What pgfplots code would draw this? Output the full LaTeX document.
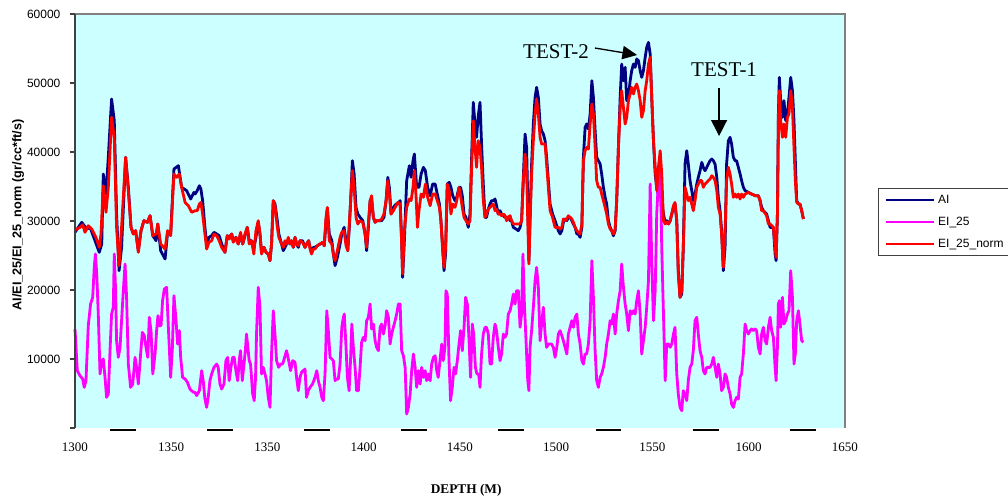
\documentclass[border=0pt]{standalone}
\usepackage{fontspec}
\setmainfont{Liberation Serif}
\newfontfamily\arial{Liberation Sans}
\usepackage{pgfplots}
\pgfplotsset{compat=1.18}
\usetikzlibrary{arrows.meta}

\definecolor{bgcyan}{RGB}{204,255,255}
\definecolor{ainavy}{RGB}{0,0,128}
\definecolor{eimag}{RGB}{255,0,255}
\definecolor{einorm}{RGB}{255,0,0}
\definecolor{framegray}{RGB}{128,128,128}
\definecolor{axisdark}{RGB}{64,64,64}

\begin{document}
\begin{tikzpicture}
\begin{axis}[
  name=ax,
  width=577.5pt, height=310.5pt, scale only axis,
  xmin=1250, xmax=1650, ymin=0, ymax=60000,
  clip=false,
  scaled y ticks=false, scaled x ticks=false,
  axis line style={draw=none},
  axis background/.style={fill=bgcyan},
  xtick={1250,1300,...,1650},
  xticklabels={1300,1350,1350,1400,1450,1500,1550,1600,1650},
  ytick={0,10000,...,60000},
  yticklabels={,10000,20000,30000,40000,50000,60000},
  tick pos=left, tick align=outside, major tick length=4pt,
  xtick style={draw=none},
  ytick style={draw=axisdark, line width=0.9pt},
  xticklabel style={font=\fontsize{9.75}{11}\selectfont, anchor=base, inner sep=0pt, yshift=-13.5pt},
  yticklabel style={font=\arial\fontsize{9}{10}\selectfont, anchor=east, inner sep=0pt, xshift=-6.75pt},
  xlabel={DEPTH (M)},
  xlabel style={at={(axis description cs:0.508,-0.1498)}, anchor=center, font=\bfseries\fontsize{10}{12}\selectfont},
  ylabel={AI/EI\_25/EI\_25\_norm (gr/cc*ft/s)},
  ylabel style={at={(axis description cs:-0.074,0.5145)}, anchor=center, font=\arial\bfseries\fontsize{9.5}{11}\selectfont},
  legend style={at={(1.0429,0.5797)}, anchor=north west, draw=axisdark, line width=0.6pt, fill=white,
    inner xsep=4.5pt, inner ysep=4.5pt, row sep=8pt, column sep=2.25pt,
    font=\arial\fontsize{9}{10}\selectfont,
    nodes={inner sep=0pt, text height=6.5pt, text depth=2pt, text width=80pt, align=left}},
  legend cell align=left,
  legend image code/.code={\draw[#1] (0pt,0pt) -- (36pt,0pt);},
  every axis plot/.append style={line width=2.1pt, line join=round},
]
% AI
\addplot[ainavy] coordinates {
(1250.0,28360) (1253.5,29810) (1256.1,28840) (1257.8,29080) (1260.4,27150) (1262.6,25460) (1263.9,26670) (1264.7,36810) (1266.1,33910) (1267.3,39230) (1269.0,47680) (1270.4,44540) (1271.6,31010) (1272.9,22800) (1274.2,26180) (1276.3,39230) (1277.7,34880) (1279.1,29080) (1280.3,28120) (1281.5,28600) (1282.9,25700) (1284.3,28600) (1285.8,30050) (1287.6,29810) (1289.0,30770) (1290.4,27870) (1292.1,27150) (1293.0,29570) (1294.5,25700) (1296.8,24490) (1298.1,28360) (1299.7,28120) (1301.4,37540) (1303.7,38020) (1305.4,34880) (1308.0,34400) (1310.1,33190) (1311.8,34150) (1312.4,33910)
(1313.5,34400) (1314.6,35120) (1315.4,34640) (1316.3,32950) (1317.5,29080) (1318.4,26670) (1319.6,27630) (1321.0,27870) (1322.2,28360) (1323.6,28120) (1324.9,27870) (1326.2,26670) (1327.9,25460) (1329.1,27870) (1330.1,27630) (1331.4,28120) (1332.2,27150) (1333.6,27630) (1334.8,26670) (1336.0,28120) (1337.1,26670) (1338.3,27870) (1339.5,29080) (1340.5,27150) (1341.7,27150) (1342.9,26180) (1344.0,27630) (1345.2,29810) (1346.1,28120) (1346.9,25460) (1348.2,26180) (1349.2,25460) (1350.4,25220) (1351.3,24250) (1352.1,26670) (1353.0,32950) (1353.9,32460) (1355.1,30050) (1355.9,28120) (1357.3,26670) (1358.2,25700) (1359.1,26180) (1359.9,26670) (1360.8,27150) (1361.7,26670) (1362.5,27150) (1363.4,26180) (1364.3,27630) (1365.1,26670) (1366.0,26180) (1366.9,27150) (1368.2,27150) (1369.5,26180) (1370.3,26670) (1371.4,27150) (1372.1,26180) (1372.9,25460) (1373.8,26180) (1374.7,26180)
(1375.9,26420) (1377.3,26670) (1378.7,26910) (1379.5,26420) (1380.4,30050) (1381.1,31740) (1382.1,28120) (1383.4,27150) (1384.2,25220) (1385.1,23530) (1386.3,24730) (1387.7,26670) (1388.6,28120) (1389.8,29080) (1390.8,27150) (1391.7,25700) (1392.5,29080) (1393.2,32950) (1394.1,38740) (1395.0,36810) (1396.0,31980) (1396.9,31010) (1398.1,30530) (1399.5,30050) (1400.7,28120) (1401.5,25700) (1402.4,29080) (1403.3,32950) (1404.1,32950) (1405.0,30530) (1405.9,29810) (1406.7,30050) (1408.1,30050) (1409.3,30050) (1410.5,30530) (1411.6,32950) (1412.5,36330) (1413.3,34880) (1414.2,31010) (1415.4,31980) (1416.8,32460) (1417.7,32460) (1418.9,32950) (1419.7,27150) (1420.2,21840) (1421.1,27150) (1422.3,35850) (1423.7,38020) (1424.6,36330) (1425.6,38740) (1426.3,39710) (1427.5,34880) (1428.7,34880) (1429.8,36810) (1431.0,37780) (1432.0,37290) (1433.2,34880) (1434.5,33670) (1435.8,35360) (1437.1,35360)
(1438.2,33910) (1439.3,32460) (1440.1,30050) (1441.0,26180) (1441.7,22800) (1442.5,25220) (1443.4,35360) (1444.4,35600) (1445.3,34880) (1446.2,33670) (1447.4,32950) (1448.3,33430) (1449.5,34880) (1450.3,34880) (1451.2,33670) (1452.1,31010) (1453.1,30530) (1454.3,29080) (1455.2,31010) (1456.1,39710) (1456.9,47200) (1457.8,44060) (1458.6,42130) (1459.5,45270) (1460.4,47200) (1461.2,41160) (1462.1,35360) (1463.0,30530) (1463.8,30530) (1464.7,31740) (1465.6,32460) (1466.4,32950) (1467.3,32950) (1468.2,33190) (1469.0,32220) (1469.9,31010) (1470.8,31500) (1471.6,31010) (1472.5,30770) (1473.4,30530) (1474.2,30530) (1475.1,30530) (1476.0,30050) (1476.8,30050) (1477.7,29080) (1479.1,28840) (1480.3,28600) (1481.2,29080) (1482.0,30050) (1482.9,36330) (1483.8,42610) (1484.6,40680) (1485.2,32950) (1485.8,24250) (1486.4,30530) (1487.2,38260) (1488.1,44060) (1489.0,47920) (1489.8,49370) (1490.7,47920) (1491.6,44060) (1492.4,43090) (1493.3,42610) (1494.2,41640) (1495.0,39230) (1495.9,35850) (1496.8,32460) (1498.1,31010) (1499.4,30050)
(1501.1,28600) (1502.0,28120) (1502.9,28600) (1503.7,29810) (1504.6,30290) (1505.5,30050) (1506.3,30530) (1507.2,30530) (1508.1,30050) (1508.9,29570) (1509.8,29080) (1510.7,28120) (1511.5,28120) (1512.4,27630) (1513.3,29080) (1514.1,39230) (1515.0,43580) (1515.8,44060) (1516.7,43330) (1517.6,45510) (1518.5,50340) (1519.3,47920) (1520.2,43090) (1521.0,39230) (1521.9,38740) (1522.8,38260) (1523.6,36810) (1524.5,34880) (1525.4,33430) (1526.2,32460) (1527.1,30050) (1528.0,29080) (1528.8,28600) (1529.7,27870) (1530.6,28600) (1531.4,32950) (1532.3,40680) (1533.2,47920) (1534.0,52750) (1534.9,50340) (1535.8,52270) (1536.6,47440) (1537.5,47920) (1538.4,50340) (1539.2,51790) (1540.1,52750) (1541.0,52270) (1541.8,53480) (1542.7,53240) (1543.6,51790) (1544.4,50820) (1545.3,51790) (1546.2,53720) (1547.0,55170) (1547.9,55890) (1548.8,54200) (1549.6,47920) (1550.5,41640) (1551.4,36810) (1552.2,34880) (1553.1,33670) (1554.0,36810) (1554.8,32950) (1555.7,31010) (1556.6,29810) (1557.4,30050) (1558.3,29570) (1559.2,30050) (1560.0,31010) (1560.9,31980) (1561.7,32460) (1562.6,30050)
(1563.4,22800) (1564.3,18940) (1565.2,19420) (1566.0,26180) (1566.9,38260) (1567.8,40190) (1568.6,38260) (1569.5,35850) (1570.4,34400) (1571.2,32950) (1572.1,33910) (1573.0,35360) (1573.8,36330) (1574.7,37290) (1575.6,38500) (1576.4,37780) (1577.3,37290) (1578.2,37780) (1579.0,38260) (1579.9,38740) (1580.8,38990) (1581.6,38740) (1582.5,38260) (1583.4,36330) (1584.2,33430) (1585.1,31500) (1585.9,28600) (1586.8,22800) (1587.7,26180) (1588.5,38260) (1589.4,41640) (1590.3,42130) (1591.1,41160) (1592.0,39230) (1592.9,38740) (1593.7,38740) (1594.6,37780) (1595.5,36810) (1596.3,35850) (1597.2,34880) (1598.1,34400) (1599.8,34150) (1601.5,33910) (1603.3,33670) (1605.0,33670) (1605.9,32950) (1606.7,31980) (1607.6,31500) (1609.3,31010) (1610.2,30050) (1611.1,29080) (1612.8,29080) (1613.7,25220) (1614.2,24250) (1614.9,31010) (1615.4,45510) (1615.9,50820) (1616.6,47440) (1617.5,45020) (1618.3,47440) (1619.2,44540) (1620.1,45510) (1620.9,47920) (1621.8,50820) (1622.7,48890) (1623.5,44540) (1624.2,38740) (1624.9,32950) (1625.8,32460) (1626.6,32460) (1627.5,31500) (1628.4,30290)
};
\addlegendentry{AI}
% EI_25
\addplot[eimag] coordinates {
(1250.0,14350) (1251.2,8310) (1252.6,7580) (1254.0,7100) (1254.8,5890) (1255.7,6860) (1256.9,14830) (1258.1,17970) (1259.2,18940) (1260.0,23280) (1260.6,25220) (1261.3,22320) (1262.1,16520) (1263.0,7830) (1263.9,9760) (1264.7,10000) (1265.6,7340) (1266.4,4440) (1267.3,4930) (1268.2,11210) (1269.0,16520) (1269.9,17490) (1270.4,25220) (1271.1,19900) (1271.6,12660) (1272.5,10240) (1273.4,11690) (1274.2,15560) (1275.1,19900) (1276.0,23770) (1276.8,18940) (1277.7,9270) (1278.9,5890) (1280.0,6380) (1281.2,10240) (1282.0,8790) (1282.9,6380) (1284.1,10720) (1285.0,13860) (1286.0,13380) (1286.9,11690) (1287.8,10240) (1288.6,16040) (1289.5,14110) (1290.4,7830) (1291.6,10720) (1292.4,14110) (1293.1,16280) (1293.8,14830) (1294.7,14830) (1295.5,18450) (1296.4,20140) (1297.6,20390) (1298.5,14590) (1299.7,7340) (1300.6,11690) (1301.4,19180) (1302.5,15560) (1303.3,12170) (1304.2,14110) (1304.9,10240) (1305.9,7340) (1307.2,7100) (1308.4,6620) (1309.7,5650) (1311.5,5170) (1312.4,5170)
(1313.2,4690) (1314.6,5410) (1315.8,8310) (1316.6,6860) (1317.5,4200) (1318.4,2990) (1319.2,4440) (1320.1,6860) (1321.0,7830) (1322.2,8790) (1323.6,9270) (1324.4,8790) (1325.3,6380) (1326.2,5650) (1327.4,6380) (1328.4,9760) (1329.3,10240) (1330.1,6860) (1331.0,8790) (1331.9,10240) (1332.7,10240) (1333.6,8310) (1334.5,6860) (1335.3,9760) (1336.0,11210) (1336.9,6860) (1337.8,9270) (1338.5,11210) (1339.1,13620) (1339.8,11690) (1340.5,9760) (1341.2,9270) (1342.3,4930) (1343.1,3960) (1343.8,7340) (1344.3,13620) (1345.2,20390) (1346.1,17490) (1346.9,7830) (1347.8,8790) (1348.7,7830) (1349.5,6860) (1350.4,4440) (1351.3,2990) (1352.1,10720) (1353.0,17000) (1353.9,13620) (1354.7,9760) (1355.8,8790) (1356.8,9270) (1357.9,9270) (1358.9,10240) (1359.9,11210) (1361.0,9760) (1362.0,8310) (1363.1,9760) (1364.3,9520) (1365.1,7340) (1366.0,5410) (1366.9,7340) (1367.7,8070) (1368.6,8310) (1369.5,8550) (1370.3,4440) (1371.2,5410) (1372.1,5890) (1373.4,6380) (1374.7,7340)
(1375.6,8310) (1376.4,6860) (1377.3,5890) (1378.2,4440) (1379.0,3960) (1379.9,7830) (1380.8,17000) (1381.6,14110) (1382.5,10240) (1383.4,10000) (1384.2,9760) (1385.1,6860) (1386.0,7100) (1386.8,7100) (1387.7,9270) (1388.6,14590) (1389.4,16040) (1389.9,16520) (1390.8,11690) (1391.5,7340) (1392.4,5410) (1393.2,10240) (1393.8,15070) (1394.6,11690) (1395.5,8790) (1396.3,5410) (1397.2,5410) (1398.1,8790) (1398.9,12420) (1399.8,13140) (1400.7,12660) (1401.5,15560) (1402.4,16040) (1403.3,17970) (1404.1,14350) (1405.0,15070) (1405.9,12660) (1406.7,11690) (1407.6,11210) (1408.5,14590) (1409.3,15070) (1410.2,13620) (1411.1,14830) (1411.9,17000) (1412.8,16040) (1413.7,12170) (1414.5,13620) (1415.4,14590) (1416.3,15560) (1417.1,16520) (1418.0,17970) (1418.9,17970) (1419.7,11210) (1420.6,10480) (1421.5,8790) (1422.3,2030) (1423.2,2990) (1424.1,4930) (1424.9,8310) (1425.8,10720) (1426.7,8790) (1427.5,5890) (1428.4,8310) (1429.3,6380) (1430.1,8790) (1431.0,7340) (1431.9,8310) (1432.7,6860) (1433.6,7830) (1434.5,6860) (1435.3,9270) (1436.2,10240) (1437.1,10480)
(1437.9,8310) (1438.7,7340) (1439.6,9760) (1440.5,12170) (1441.3,9760) (1442.2,11690) (1442.7,19900) (1443.4,19420) (1444.3,9760) (1445.1,3960) (1446.0,5890) (1446.9,8790) (1447.7,7830) (1448.6,9760) (1449.5,12170) (1450.3,14110) (1451.2,11210) (1452.1,14590) (1452.9,18940) (1453.8,17970) (1454.7,12660) (1455.5,7340) (1456.4,15070) (1457.1,13620) (1458.0,8790) (1458.8,7830) (1459.7,7830) (1460.4,5890) (1461.2,10720) (1462.1,13620) (1463.0,14590) (1463.8,14590) (1464.7,13620) (1465.6,9270) (1466.4,9270) (1467.3,13140) (1468.2,15070) (1469.0,14110) (1469.9,11690) (1470.8,9760) (1471.6,10720) (1472.5,13620) (1473.4,13140) (1474.2,13620) (1475.1,16520) (1476.0,17000) (1476.8,17970) (1477.7,19420) (1478.6,17970) (1479.4,19900) (1480.3,19900) (1481.2,14590) (1482.0,16520) (1482.7,25220) (1483.4,18450) (1484.3,12660) (1485.2,6860) (1485.8,5410) (1486.4,11690) (1487.2,14110) (1488.1,17490) (1489.0,21350) (1489.8,23280) (1490.7,20390) (1491.6,12660) (1492.4,15070) (1493.3,17490) (1494.2,13620) (1495.0,11690) (1495.9,12170) (1496.8,12170) (1497.6,12170) (1498.5,11690) (1499.4,10240)
(1500.3,11690) (1501.1,13620) (1502.0,14110) (1502.9,13380) (1503.7,12660) (1504.6,11690) (1505.5,10720) (1506.3,13620) (1507.2,14590) (1508.1,15560) (1508.9,14590) (1509.8,16040) (1510.7,16520) (1511.5,13620) (1512.4,12170) (1513.3,9760) (1514.1,9270) (1515.0,10720) (1515.8,10720) (1516.7,12170) (1517.6,15560) (1518.5,24250) (1519.3,18940) (1520.2,11210) (1521.0,6860) (1521.9,5890) (1522.8,7340) (1523.6,7830) (1524.5,8790) (1525.4,10240) (1526.2,12170) (1527.1,13620) (1528.0,15560) (1528.8,15070) (1529.7,16520) (1530.6,13620) (1531.4,16520) (1532.3,18450) (1533.2,19900) (1534.0,23770) (1534.9,20390) (1535.8,17970) (1536.6,16520) (1537.5,14110) (1538.4,17000) (1539.2,16520) (1540.1,17000) (1541.0,16520) (1541.8,18450) (1542.7,19900) (1543.6,16520) (1544.4,10720) (1545.3,12660) (1546.2,14590) (1547.0,17490) (1547.9,21350) (1548.8,35360) (1549.6,24250) (1550.5,15560) (1551.4,19900) (1552.2,31010) (1553.6,38740) (1554.5,31010) (1554.8,26180) (1555.7,16520) (1556.6,6860) (1557.4,12170) (1558.3,12170) (1559.2,11690) (1560.0,12170) (1560.9,13620) (1561.7,14590)
(1562.6,7830) (1563.4,4930) (1564.3,2990) (1565.2,2510) (1566.0,5410) (1566.9,4930) (1567.8,3960) (1568.6,6860) (1569.5,8790) (1570.4,9270) (1571.2,11210) (1572.1,15560) (1573.0,16040) (1573.8,13620) (1574.7,11210) (1575.6,10240) (1576.4,8310) (1577.3,7830) (1578.2,8790) (1579.0,8790) (1579.9,8790) (1580.8,9270) (1581.6,10240) (1582.5,8790) (1583.4,7340) (1584.2,9270) (1585.1,7830) (1585.9,5410) (1586.8,5890) (1587.7,7830) (1588.5,7340) (1589.4,5890) (1590.3,4930) (1591.1,3480) (1592.0,2990) (1592.9,3960) (1593.7,4440) (1594.6,4200) (1595.5,7340) (1596.3,7830) (1597.2,10720) (1598.1,15070) (1598.9,14110) (1599.8,13620) (1600.7,14110) (1601.5,14350) (1602.4,14110) (1603.3,14350) (1604.1,14110) (1605.0,11690) (1605.9,10720) (1606.7,13620) (1607.6,14590) (1608.5,12660) (1609.3,12170) (1610.2,14590) (1611.1,16040) (1611.9,14110) (1612.8,13140) (1613.7,8790) (1614.2,6860) (1614.9,11690) (1615.4,17970) (1615.9,18450) (1616.6,14590) (1617.5,18940) (1618.3,15070) (1619.2,15560) (1620.1,16520) (1620.9,17000) (1621.8,22800) (1622.7,18940) (1623.5,9270) (1624.2,10720) (1624.9,15560) (1625.8,17000) (1626.6,15070) (1627.5,12660) (1628.4,12420)
};
\addlegendentry{EI\_25}
% EI_25_norm
\addplot[einorm] coordinates {
(1250.0,28700) (1252.6,29080) (1254.0,29470) (1255.2,28360) (1256.9,29320) (1258.7,28840) (1260.9,27630) (1262.6,26180) (1263.5,28120) (1264.7,35120) (1266.1,31260) (1267.3,34880) (1269.0,45020) (1270.4,42130) (1271.6,29080) (1272.9,23530) (1274.2,29080) (1276.3,39230) (1277.7,34400) (1279.1,29080) (1280.3,28120) (1281.5,28600) (1282.9,25460) (1284.3,28600) (1285.8,30050) (1287.6,29810) (1289.0,30770) (1290.4,27870) (1292.1,28120) (1293.0,29570) (1294.5,26670) (1296.8,25940) (1298.1,28600) (1299.7,27870) (1301.4,36810) (1302.8,36330) (1304.2,36810) (1305.4,34880) (1307.2,32700) (1308.9,32220) (1310.6,31260) (1312.4,31500)
(1313.5,31500) (1314.6,32460) (1315.4,32700) (1316.3,31010) (1317.5,28120) (1318.4,25940) (1319.6,26910) (1321.0,27150) (1322.2,28120) (1323.6,27870) (1324.9,27150) (1326.2,26180) (1327.9,25460) (1329.1,27870) (1330.1,27390) (1331.4,28120) (1332.2,26910) (1333.6,27630) (1334.8,26670) (1336.0,28360) (1337.1,26670) (1338.3,28120) (1339.5,29080) (1340.5,26670) (1341.7,27150) (1342.9,25220) (1344.0,28600) (1345.2,30050) (1346.1,28120) (1346.9,25220) (1348.2,26180) (1349.2,25460) (1350.4,25220) (1351.3,24250) (1352.1,26670) (1353.0,32950) (1353.9,32220) (1355.1,29080) (1355.9,27630) (1357.3,26670) (1358.2,26180) (1359.1,27150) (1359.9,26670) (1360.8,27630) (1361.7,26670) (1362.5,27150) (1363.4,26180) (1364.3,27630) (1365.1,26670) (1366.0,26420) (1366.9,27150) (1368.2,26910) (1369.5,26180) (1370.3,26670) (1371.4,27150) (1372.1,25940) (1372.9,25220) (1373.8,25940) (1374.7,25940)
(1375.9,26420) (1377.3,26670) (1378.7,26910) (1379.5,26420) (1380.4,30530) (1381.1,31980) (1382.1,27150) (1383.4,26670) (1384.2,25220) (1385.1,24250) (1386.3,25700) (1387.7,27630) (1388.6,28360) (1389.8,28600) (1390.8,26420) (1391.7,25700) (1392.5,29570) (1393.2,32950) (1394.1,37290) (1395.0,34880) (1396.0,30530) (1396.9,29570) (1398.1,30050) (1399.5,29810) (1400.7,28120) (1401.5,26180) (1402.4,29570) (1403.3,32950) (1404.1,33670) (1405.0,30530) (1405.9,29810) (1406.7,30050) (1408.1,30050) (1409.3,30290) (1410.5,31010) (1411.6,32950) (1412.5,35850) (1413.3,33910) (1414.2,31010) (1415.4,31500) (1416.8,32220) (1417.7,32700) (1418.9,32460) (1419.7,26670) (1420.2,22320) (1421.1,28600) (1422.3,31980) (1423.7,33190) (1424.6,32950) (1425.6,34880) (1426.3,37290) (1427.2,33430) (1427.9,29080) (1428.7,31500) (1429.8,33910) (1431.0,33430) (1432.0,35360) (1433.2,33430) (1434.5,32220) (1435.8,33910) (1437.1,33910)
(1438.2,32950) (1439.3,31980) (1440.1,30050) (1441.0,25700) (1441.7,23290) (1442.5,26180) (1443.4,35360) (1444.4,34400) (1445.3,31010) (1446.2,32460) (1447.4,31980) (1448.3,32950) (1449.5,34880) (1450.3,33670) (1451.2,31980) (1452.1,30530) (1453.1,30050) (1454.3,29570) (1455.2,30050) (1456.1,38260) (1456.9,44540) (1457.8,40680) (1458.6,37780) (1459.5,41640) (1460.4,40680) (1461.2,37780) (1462.1,32950) (1463.0,30530) (1463.8,31010) (1464.7,31740) (1465.6,31980) (1466.4,32220) (1467.3,32460) (1468.2,31500) (1469.0,31740) (1469.9,31010) (1470.8,31010) (1471.6,30770) (1472.5,31010) (1473.4,30770) (1474.2,30050) (1475.1,30530) (1476.0,30770) (1476.8,30050) (1477.7,29570) (1479.1,29570) (1480.3,29570) (1481.2,29570) (1482.0,30050) (1482.9,35850) (1483.8,39710) (1484.6,37290) (1485.2,30050) (1485.8,23770) (1486.4,30050) (1487.2,36810) (1488.1,41640) (1489.0,45510) (1489.8,47680) (1490.7,45510) (1491.6,42130) (1492.4,41160) (1493.3,41160) (1494.2,41160) (1495.0,38260) (1495.9,34880) (1496.8,31500) (1498.1,30530) (1499.4,29080)
(1501.1,29080) (1502.0,28840) (1502.9,29080) (1503.7,30290) (1504.6,30050) (1505.5,30290) (1506.3,30770) (1507.2,30530) (1508.1,30290) (1508.9,29810) (1509.8,29080) (1510.7,28600) (1511.5,28360) (1512.4,28120) (1513.3,29570) (1514.1,38740) (1515.0,40190) (1515.8,40680) (1516.7,40430) (1517.6,44060) (1518.5,46960) (1519.3,45510) (1520.2,40680) (1521.0,35850) (1521.9,34880) (1522.8,34880) (1523.6,33910) (1524.5,32950) (1525.4,31980) (1526.2,31010) (1527.1,29570) (1528.0,28840) (1528.8,28600) (1529.7,28120) (1530.6,28840) (1531.4,32950) (1532.3,40680) (1533.2,46470) (1534.0,48890) (1534.9,46470) (1535.8,44060) (1536.6,45020) (1537.5,47440) (1538.4,48410) (1539.2,49370) (1540.1,48410) (1541.0,49370) (1541.8,49850) (1542.7,48890) (1543.6,47440) (1544.4,45020) (1545.3,45990) (1546.2,48890) (1547.0,50340) (1547.9,52750) (1548.8,53720) (1549.6,47920) (1550.5,41640) (1551.4,37780) (1552.2,34400) (1553.1,37780) (1554.0,40190) (1554.8,36810) (1555.7,30050) (1556.6,29570) (1557.4,29810) (1558.3,29570) (1559.2,30050) (1560.0,31010) (1560.9,32220) (1561.7,32700) (1562.6,30050)
(1563.4,22320) (1564.3,18940) (1565.2,19900) (1566.0,26180) (1566.9,34880) (1567.8,33910) (1568.6,32950) (1569.5,33430) (1570.4,32460) (1571.2,31500) (1572.1,32950) (1573.0,34880) (1573.8,35360) (1574.7,35850) (1575.6,35850) (1576.4,34880) (1577.3,35360) (1578.2,35600) (1579.0,35850) (1579.9,36090) (1580.8,36570) (1581.6,36330) (1582.5,35850) (1583.4,34400) (1584.2,31980) (1585.1,31010) (1585.9,28120) (1586.8,23290) (1587.7,28600) (1588.5,35850) (1589.4,37780) (1590.3,36810) (1591.1,35360) (1592.0,33430) (1592.9,33910) (1593.7,33430) (1594.6,33910) (1595.5,33190) (1596.3,33910) (1597.2,33430) (1598.1,33910) (1599.8,34150) (1601.5,33910) (1603.3,33670) (1605.0,33670) (1605.9,32950) (1606.7,31500) (1607.6,31500) (1609.3,30770) (1610.2,29570) (1611.1,29570) (1612.8,29080) (1613.7,26180) (1614.2,24730) (1614.9,31010) (1615.4,44540) (1615.9,48890) (1616.6,44540) (1617.5,42130) (1618.3,44060) (1619.2,42130) (1620.1,45020) (1620.9,45510) (1621.8,48890) (1622.7,46470) (1623.5,40680) (1624.2,35850) (1624.9,32700) (1625.8,32460) (1626.6,32460) (1627.5,31500) (1628.4,30290)
};
\addlegendentry{EI\_25\_norm}

% frame: grey top and right, dark left, broken bottom
\draw[framegray, line width=1.5pt] (rel axis cs:0,1) -- (rel axis cs:1,1) -- (rel axis cs:1,0);
\draw[axisdark, line width=1.5pt] (rel axis cs:0,0) -- (rel axis cs:0,1);
\pgfplotsinvokeforeach{0,...,7}{
  \draw[black, line width=1.5pt] (rel axis cs:{0.0455+#1*0.1261},-0.005) -- (rel axis cs:{0.0792+#1*0.1261},-0.005);
}

% test annotations
\node[font=\fontsize{15.75}{18}\selectfont] at (axis cs:1499.9,54490) {TEST-2};
\draw[line width=1pt, -{Triangle[length=11pt,width=10pt]}] (axis cs:1520.1,55070) -- (axis cs:1542.0,54060);
\node[font=\fontsize{15.75}{18}\selectfont] at (axis cs:1587.2,51890) {TEST-1};
\draw[line width=1pt, -{Triangle[length=12pt,width=12pt]}] (axis cs:1584.6,49280) -- (axis cs:1584.6,42320);
\end{axis}
\pgfresetboundingbox
\path ([shift={(-56.25pt,-54.75pt)}]ax.south west) rectangle ([shift={(699.75pt,321pt)}]ax.south west);
\end{tikzpicture}
\end{document}
